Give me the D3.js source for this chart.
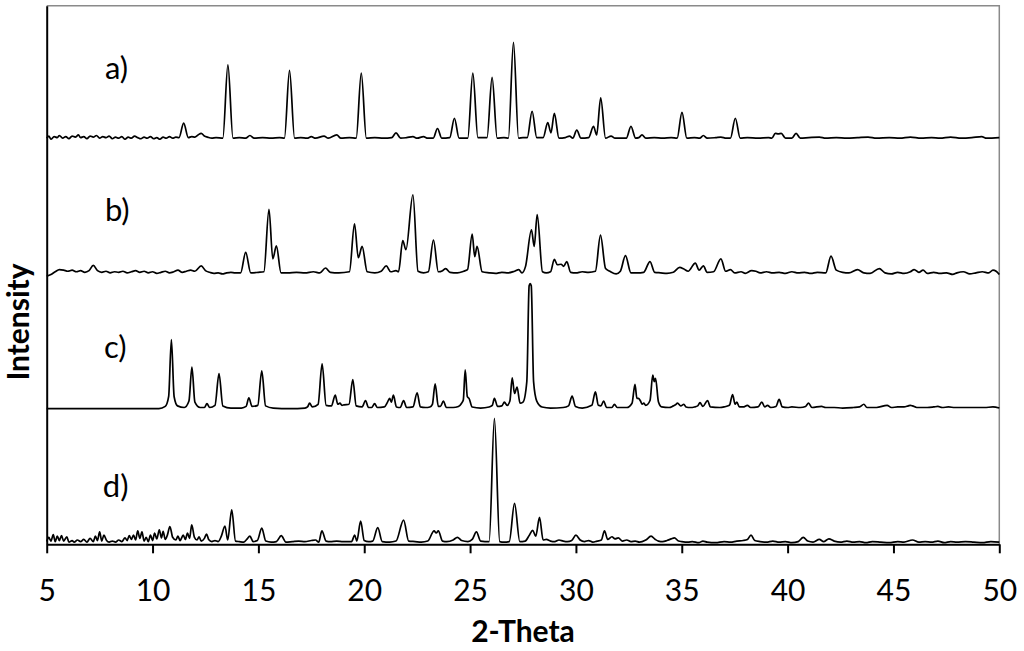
<!DOCTYPE html>
<html>
<head>
<meta charset="utf-8">
<script src="https://cdn.jsdelivr.net/npm/d3@7"></script>
<style>
  body { margin: 0; background: #fff; }
  svg text { font-family: Lato, "Open Sans", sans-serif; fill: #000; }
</style>
</head>
<body>
<svg id="chart" width="1024" height="651"></svg>
<script>
// [2-theta, intensity above the pattern's own baseline]
const patternA = [[5,0],[5.1,4],[5.2,-2],[5.35,3],[5.5,1],[5.6,5],[5.75,0],[5.9,3],[6.05,-1],[6.2,4],[6.35,2],[6.5,6],[6.6,1],[6.75,3],[6.9,-1],[7.05,4],[7.2,2],[7.35,5],[7.5,0],[7.65,3],[7.8,1],[7.95,4],[8.1,-1],[8.25,2],[8.4,0],[8.55,3],[8.7,-2],[8.85,2],[9.0,0],[9.15,4],[9.3,1],[9.45,-1],[9.6,2],[9.75,0],[9.9,3],[10.05,-1],[10.2,1],[10.35,-2],[10.5,2],[10.65,0],[10.8,3],[10.95,0],[11.1,2],[11.25,1],[11.47,28],[11.69,1],[11.85,3],[12.0,2],[12.15,6],[12.3,9],[12.45,4],[12.6,2],[12.8,0],[13.0,1],[13.32,0],[13.56,136],[13.8,0],[14.1,1],[14.4,0],[14.6,5],[14.8,0],[15.2,1],[15.6,0],[16.0,1],[16.23,0],[16.47,126],[16.71,0],[17.0,1],[17.3,0],[17.5,3],[17.7,0],[18.1,4],[18.3,0],[18.7,6],[18.9,0],[19.3,1],[19.62,0],[19.86,121],[20.1,0],[20.5,1],[20.9,0],[21.3,1],[21.5,10],[21.72,0],[22.0,1],[22.3,3],[22.5,0],[22.8,3],[23.0,0],[23.26,0],[23.46,18],[23.66,0],[24.04,1],[24.26,37],[24.48,0],[24.89,0],[25.13,121],[25.37,1],[25.8,1],[26.04,113],[26.28,0],[26.6,1],[26.81,0],[27.05,178],[27.29,0],[27.5,1],[27.7,1],[27.93,50],[28.15,1],[28.45,1],[28.67,29],[28.82,10],[28.98,46],[29.2,0],[29.5,1],[29.7,4],[29.85,0],[30.04,15],[30.24,0],[30.6,1],[30.83,22],[30.98,6],[31.17,75],[31.4,0],[31.66,4],[31.85,0],[32.38,0],[32.6,22],[32.82,0],[32.97,1],[33.12,6],[33.3,0],[33.7,1],[34.1,0],[34.5,1],[34.78,0],[35.01,48],[35.24,0],[35.6,1],[35.85,0],[36.02,5],[36.2,0],[36.6,1],[36.85,2],[37.1,0],[37.3,0],[37.53,37],[37.76,0],[38.1,1],[38.6,0],[39.1,1],[39.25,0],[39.42,9],[39.56,8],[39.7,9],[39.9,0],[40.2,0],[40.4,9],[40.6,0],[41.0,1],[41.5,2],[41.8,0],[42.3,1],[42.8,0],[43.3,1],[43.8,2],[44.2,0],[44.8,1],[45.3,0],[45.8,2],[46.3,0],[46.8,1],[47.2,0],[47.7,2],[48.2,0],[48.7,1],[49.17,3],[49.4,0],[50,1]];

const patternB = [[5,-6],[5.2,-3],[5.4,2],[5.6,6],[5.8,5],[6.0,3],[6.2,5],[6.4,2],[6.6,4],[6.8,1],[7.0,4],[7.2,14],[7.4,4],[7.6,1],[7.8,3],[8.0,0],[8.2,2],[8.4,1],[8.6,3],[8.8,0],[9.0,2],[9.2,4],[9.4,1],[9.6,3],[9.8,0],[10.0,2],[10.2,-1],[10.4,1],[10.6,3],[10.8,0],[11.0,2],[11.2,5],[11.4,1],[11.6,3],[11.8,5],[12.0,3],[12.3,13],[12.5,4],[12.7,1],[12.9,-1],[13.1,0],[13.3,-2],[13.5,0],[13.7,1],[13.9,0],[14.16,0],[14.4,38],[14.64,0],[15.0,1],[15.26,2],[15.5,118],[15.68,26],[15.85,50],[16.07,0],[16.4,0],[16.8,1],[17.2,0],[17.6,2],[17.9,0],[18.17,9],[18.4,1],[18.8,0],[19.3,2],[19.54,91],[19.72,28],[19.9,49],[20.14,2],[20.5,0],[20.8,3],[21.04,13],[21.25,2],[21.5,4],[21.62,2],[21.82,60],[21.97,43],[22.3,145],[22.54,3],[22.8,0],[23.03,2],[23.27,61],[23.5,2],[23.7,4],[23.85,8],[24.05,1],[24.4,0],[24.7,3],[24.88,6],[25.1,72],[25.22,30],[25.33,49],[25.57,2],[25.9,0],[26.2,-1],[26.5,1],[26.8,0],[27.1,3],[27.3,6],[27.45,0],[27.62,12],[27.9,80],[28.03,49],[28.17,108],[28.42,2],[28.6,0],[28.8,2],[28.98,25],[29.12,15],[29.3,16],[29.42,12],[29.57,21],[29.75,1],[30.0,0],[30.3,2],[30.6,1],[30.92,3],[31.16,70],[31.4,8],[31.6,3],[31.9,-2],[32.1,3],[32.34,32],[32.6,0],[32.9,0],[33.2,1],[33.5,21],[33.72,1],[34.0,0],[34.3,-1],[34.6,1],[34.9,10],[35.1,7],[35.3,3],[35.64,18],[35.82,5],[36.02,13],[36.2,1],[36.5,2],[36.85,26],[37.07,3],[37.3,6],[37.5,0],[37.8,2],[38.0,-1],[38.3,4],[38.5,3],[38.7,0],[39.0,2],[39.3,0],[39.6,1],[39.9,-1],[40.2,2],[40.5,0],[40.8,1],[41.1,-1],[41.4,1],[41.8,0],[42.05,31],[42.3,5],[42.6,1],[42.9,0],[43.3,6],[43.6,0],[43.9,-1],[44.33,8],[44.6,0],[44.9,-2],[45.2,1],[45.5,-1],[45.8,2],[45.98,6],[46.2,1],[46.4,5],[46.6,-1],[46.9,1],[47.2,-1],[47.5,0],[47.8,-3],[48.0,0],[48.3,2],[48.6,-2],[48.9,0],[49.2,2],[49.5,0],[49.7,5],[49.85,3],[50,-3]];

const patternC = [[5,0],[7,0],[9,0],[10.3,0],[10.6,4],[10.76,22],[10.89,128],[11.02,22],[11.18,5],[11.5,2],[11.72,14],[11.86,77],[12.0,12],[12.25,2],[12.45,2],[12.57,9],[12.7,2],[12.95,6],[13.14,65],[13.32,5],[13.7,1],[14.2,1],[14.42,4],[14.55,20],[14.7,4],[14.97,6],[15.16,70],[15.34,5],[15.7,1],[16.5,0],[17.2,1],[17.32,3],[17.42,10],[17.55,3],[17.82,8],[18.01,83],[18.2,6],[18.45,5],[18.63,25],[18.75,8],[18.85,10],[18.95,6],[19.05,7],[19.28,8],[19.46,54],[19.62,5],[19.9,3],[20.06,15],[20.2,2],[20.35,2],[20.49,9],[20.62,2],[20.95,3],[21.1,12],[21.2,19],[21.28,12],[21.38,25],[21.52,3],[21.7,2],[21.86,15],[22.0,2],[22.3,3],[22.5,29],[22.65,3],[22.9,2],[23.1,3],[23.22,8],[23.35,46],[23.5,4],[23.6,4],[23.74,14],[23.88,2],[24.2,2],[24.45,4],[24.6,10],[24.68,16],[24.77,72],[24.87,22],[24.95,19],[25.1,3],[25.5,1],[25.9,3],[26.05,6],[26.15,19],[26.3,4],[26.5,5],[26.62,12],[26.75,6],[26.88,14],[26.99,57],[27.1,28],[27.22,40],[27.36,10],[27.5,12],[27.68,50],[27.79,228],[27.84,232],[27.89,228],[28.0,50],[28.15,14],[28.4,3],[28.8,1],[29.4,2],[29.65,5],[29.82,23],[29.98,4],[30.3,1],[30.75,6],[30.92,31],[31.06,6],[31.18,5],[31.31,14],[31.45,2],[31.7,2],[31.82,8],[31.95,2],[32.4,2],[32.65,10],[32.79,45],[32.88,19],[32.95,19],[33.05,14],[33.13,8],[33.2,10],[33.3,6],[33.5,15],[33.63,62],[33.7,50],[33.76,56],[33.9,12],[34.05,3],[34.4,2],[34.6,5],[34.7,7],[34.8,10],[34.95,5],[35.1,8],[35.2,3],[35.4,2],[35.6,3],[35.75,5],[35.86,11],[36.0,4],[36.22,15],[36.35,3],[36.8,2],[37.0,3],[37.25,6],[37.4,26],[37.52,8],[37.6,12],[37.72,3],[37.9,3],[38.1,6],[38.25,2],[38.6,3],[38.78,12],[38.92,3],[39.05,6],[39.2,2],[39.45,4],[39.6,17],[39.75,3],[40.0,2],[40.2,3],[40.6,2],[40.85,4],[40.99,10],[41.15,2],[41.6,4],[41.8,2],[42.2,2],[42.6,1],[43.1,2],[43.4,3],[43.6,8],[43.75,2],[44.2,2],[44.7,6],[44.9,2],[45.2,3],[45.5,3],[45.7,5],[45.8,6],[45.9,5],[46.1,2],[46.6,2],[46.9,3],[47.1,4],[47.3,2],[47.6,3],[47.9,2],[48.3,2],[48.8,2],[49.3,2],[49.7,3],[50,1]];

const patternD = [[5,2],[5.1,10],[5.2,3],[5.31,15],[5.4,2],[5.5,12],[5.6,4],[5.7,13],[5.8,3],[5.95,11],[6.05,1],[6.2,4],[6.3,1],[6.45,5],[6.6,2],[6.75,6],[6.9,1],[7.05,8],[7.2,2],[7.3,12],[7.4,4],[7.5,20],[7.6,3],[7.7,14],[7.83,4],[7.95,1],[8.1,3],[8.25,1],[8.4,5],[8.55,2],[8.7,9],[8.8,4],[8.9,13],[9.0,6],[9.1,14],[9.2,5],[9.3,22],[9.4,8],[9.5,20],[9.6,3],[9.7,10],[9.8,2],[9.9,14],[10.0,4],[10.1,18],[10.2,7],[10.32,24],[10.42,9],[10.5,21],[10.6,6],[10.7,14],[10.82,30],[10.95,10],[11.1,5],[11.2,12],[11.3,4],[11.45,14],[11.55,6],[11.65,18],[11.75,8],[11.85,33],[11.98,10],[12.1,5],[12.2,11],[12.3,3],[12.45,8],[12.55,16],[12.65,6],[12.8,2],[12.95,4],[13.1,2],[13.25,12],[13.42,31],[13.55,5],[13.74,61],[13.92,3],[14.1,2],[14.3,1],[14.45,6],[14.6,12],[14.75,2],[14.95,4],[15.16,27],[15.35,3],[15.6,1],[15.85,2],[16.08,13],[16.3,1],[16.6,2],[16.9,3],[17.2,2],[17.5,4],[17.7,5],[17.85,1],[18.0,22],[18.2,3],[18.4,2],[18.7,3],[19.0,2],[19.4,2],[19.55,14],[19.65,3],[19.83,40],[20.0,4],[20.2,2],[20.4,3],[20.64,28],[20.85,2],[21.2,1],[21.5,3],[21.86,42],[22.1,3],[22.4,2],[22.7,1],[23.0,3],[23.3,22],[23.4,18],[23.5,22],[23.7,3],[23.9,2],[24.2,5],[24.4,10],[24.6,4],[24.9,2],[25.1,6],[25.3,20],[25.5,3],[25.9,2],[26.15,231],[26.4,2],[26.6,1],[26.85,2],[27.1,73],[27.35,2],[27.6,3],[27.8,14],[27.96,23],[28.1,12],[28.28,47],[28.45,5],[28.6,6],[28.8,3],[29.0,2],[29.2,5],[29.4,3],[29.6,2],[29.8,4],[30.0,14],[30.2,5],[30.4,2],[30.6,4],[30.8,1],[31.0,3],[31.2,5],[31.35,22],[31.5,6],[31.7,11],[31.85,7],[32.0,9],[32.2,3],[32.4,5],[32.6,2],[32.8,3],[33.0,1],[33.3,5],[33.55,12],[33.75,6],[33.9,3],[34.1,2],[34.3,4],[34.5,7],[34.65,9],[34.85,3],[35.0,2],[35.3,1],[35.5,2],[35.8,0],[36.0,3],[36.2,1],[36.6,0],[37.0,2],[37.3,1],[37.6,3],[37.9,4],[38.1,6],[38.27,14],[38.45,4],[38.7,2],[39.0,1],[39.3,3],[39.6,1],[39.9,2],[40.2,0],[40.5,2],[40.74,10],[40.95,3],[41.2,1],[41.5,6],[41.7,2],[41.95,7],[42.2,3],[42.5,1],[42.8,3],[43.1,1],[43.4,2],[43.7,0],[44.0,2],[44.4,1],[44.8,0],[45.2,2],[45.5,1],[45.9,5],[46.2,1],[46.5,2],[46.8,1],[47.1,3],[47.4,0],[47.7,2],[48.0,1],[48.4,2],[48.8,1],[49.2,0],[49.6,2],[50,1]];

const patterns = [patternA, patternB, patternC, patternD];
const offsets = [754, 504, 252, 3];          // vertical stacking of the traces
const labels = ["a)", "b)", "c)", "d)"];
const labelPos = [[7.75, 863], [7.75, 600], [7.71, 345], [7.65, 88]];
const xTicks = [5, 10, 15, 20, 25, 30, 35, 40, 45, 50];

let svg = d3.select("#chart"),
    margin = {top: 5.7, right: 24.7, bottom: 106.7, left: 46.7},
    width = +svg.attr("width") - margin.left - margin.right,
    height = +svg.attr("height") - margin.top - margin.bottom,
    g = svg.append("g").attr("transform", "translate(" + margin.left + "," + margin.top + ")");

let x = d3.scaleLinear().domain([5, 50]).range([0, width]);
let y = d3.scaleLinear().domain([0, 1000]).range([height, 0]);

// grey frame on top and right
g.append("path")
  .attr("d", "M0,0H" + width + "V" + height)
  .attr("fill", "none")
  .attr("stroke", "#8a8a8a")
  .attr("stroke-width", 1.5);

// the four diffractograms
patterns.forEach(function(pts, i) {
  let line = d3.line()
    .x(function(d) { return x(d[0]); })
    .y(function(d) { return y(d[1] + offsets[i]); })
    .curve(d3.curveMonotoneX);

  g.append("path")
    .datum(pts)
    .attr("fill", "none")
    .attr("stroke", "#000")
    .attr("stroke-width", 1.7)
    .attr("stroke-linejoin", "round")
    .attr("d", line);
});

g.selectAll(".lbl")
  .data(labels)
  .enter().append("text")
  .attr("class", "lbl")
  .attr("x", function(d, i) { return x(labelPos[i][0]); })
  .attr("y", function(d, i) { return y(labelPos[i][1]); })
  .style("font-size", "31px")
  .text(function(d) { return d; });

// axes
let xAxis = g.append("g")
  .attr("transform", "translate(0," + height + ")")
  .call(d3.axisBottom(x).tickValues(xTicks).tickSize(9).tickSizeOuter(0));

xAxis.select(".domain").attr("stroke", "#000").attr("stroke-width", 2);
xAxis.selectAll(".tick line").attr("stroke", "#000").attr("stroke-width", 2);
xAxis.selectAll(".tick text")
  .attr("y", 56.7)
  .attr("dy", null)
  .style("font-size", "30px");

let yAxis = g.append("g")
  .call(d3.axisLeft(y).tickValues([]).tickSizeOuter(0));
yAxis.select(".domain").attr("stroke", "#000").attr("stroke-width", 2);

svg.append("text")
  .attr("x", margin.left + width / 2)
  .attr("y", 642)
  .attr("text-anchor", "middle")
  .style("font-size", "30px")
  .style("font-weight", "bold")
  .text("2-Theta");

svg.append("text")
  .attr("transform", "translate(29,322) rotate(-90)")
  .attr("text-anchor", "middle")
  .style("font-size", "30px")
  .style("font-weight", "bold")
  .text("Intensity");
</script>
</body>
</html>
